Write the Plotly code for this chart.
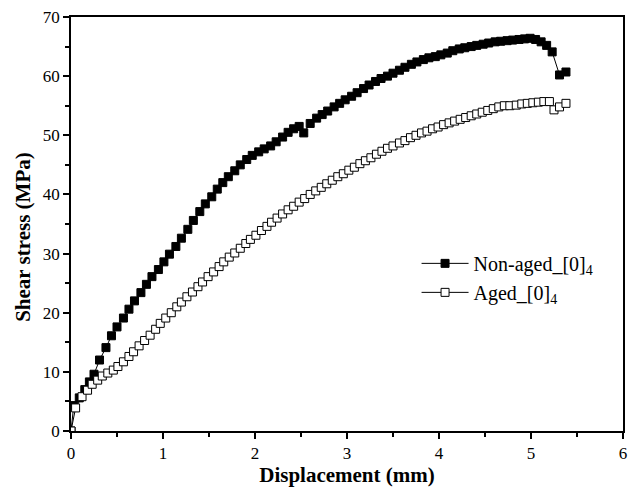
import plotly.graph_objects as go

# Lap-shear test curves: displacement (mm) vs shear stress (MPa)
nonaged_disp = [
    0.00, 0.03, 0.09, 0.15, 0.20, 0.25, 0.31, 0.38, 0.44, 0.50,
    0.57, 0.63, 0.69, 0.76, 0.82, 0.88, 0.95, 1.01, 1.07, 1.14,
    1.20, 1.27, 1.33, 1.40, 1.46, 1.53, 1.59, 1.65, 1.71, 1.78,
    1.84, 1.91, 1.97, 2.04, 2.10, 2.17, 2.23, 2.30, 2.36, 2.42,
    2.48, 2.53, 2.60, 2.67, 2.73, 2.79, 2.86, 2.92, 2.98, 3.05,
    3.11, 3.18, 3.24, 3.31, 3.37, 3.44, 3.50, 3.57, 3.63, 3.70,
    3.76, 3.83, 3.89, 3.96, 4.02, 4.09, 4.15, 4.22, 4.28, 4.35,
    4.41, 4.48, 4.54, 4.61, 4.67, 4.74, 4.80, 4.87, 4.93, 4.99,
    5.05, 5.11, 5.17, 5.23, 5.31, 5.38,
]
nonaged_stress = [
    0.0, 4.3, 5.6, 7.0, 8.3, 9.6, 12.0, 14.1, 16.1, 17.6,
    19.1, 20.6, 22.0, 23.4, 24.8, 26.1, 27.3, 28.6, 29.9, 31.2,
    32.6, 34.1, 35.6, 37.1, 38.4, 39.6, 40.9, 42.0, 43.0, 44.0,
    45.0, 45.9, 46.6, 47.2, 47.7, 48.2, 48.9, 49.7, 50.5, 51.1,
    51.5, 50.4, 52.0, 52.9, 53.5, 54.1, 54.8, 55.4, 56.0, 56.6,
    57.2, 57.9, 58.5, 59.1, 59.6, 60.0, 60.5, 61.0, 61.5, 62.0,
    62.4, 62.8, 63.1, 63.3, 63.6, 63.9, 64.3, 64.6, 64.8, 65.0,
    65.2, 65.4, 65.6, 65.8, 65.9, 66.0, 66.1, 66.2, 66.3, 66.4,
    66.2, 65.8, 65.2, 64.1, 60.2, 60.7,
]

aged_disp = [
    0.00, 0.05, 0.12, 0.18, 0.23, 0.29, 0.34, 0.40, 0.46, 0.51,
    0.57, 0.63, 0.68, 0.74, 0.80, 0.86, 0.92, 0.97, 1.03, 1.09,
    1.15, 1.20, 1.26, 1.32, 1.38, 1.43, 1.49, 1.55, 1.61, 1.66,
    1.72, 1.78, 1.84, 1.90, 1.95, 2.01, 2.07, 2.13, 2.18, 2.24,
    2.30, 2.36, 2.42, 2.48, 2.54, 2.60, 2.66, 2.72, 2.78, 2.84,
    2.90, 2.96, 3.02, 3.08, 3.14, 3.20, 3.26, 3.32, 3.38, 3.44,
    3.50, 3.57, 3.63, 3.69, 3.75, 3.81, 3.87, 3.93, 3.99, 4.05,
    4.11, 4.17, 4.23, 4.29, 4.35, 4.41, 4.47, 4.53, 4.59, 4.65,
    4.71, 4.77, 4.84, 4.90, 4.96, 5.02, 5.08, 5.14, 5.20, 5.25,
    5.31, 5.38,
]
aged_stress = [
    0.0, 3.9, 5.8, 6.9, 7.9, 8.6, 9.3, 9.8, 10.3, 10.9,
    11.7, 12.6, 13.4, 14.4, 15.3, 16.2, 17.2, 18.2, 19.1, 20.0,
    21.0, 21.8, 22.7, 23.5, 24.4, 25.2, 26.1, 26.9, 27.8, 28.6,
    29.4, 30.1, 30.9, 31.7, 32.4, 33.1, 33.9, 34.6, 35.3, 36.0,
    36.7, 37.4, 38.0, 38.7, 39.3, 40.0, 40.6, 41.2, 41.8, 42.4,
    43.0, 43.5, 44.1, 44.6, 45.2, 45.7, 46.2, 46.8, 47.3, 47.8,
    48.2, 48.7, 49.1, 49.6, 50.0, 50.4, 50.7, 51.1, 51.4, 51.8,
    52.1, 52.4, 52.7, 53.0, 53.3, 53.6, 53.9, 54.2, 54.5, 54.8,
    55.0, 55.0, 55.1, 55.3, 55.4, 55.5, 55.6, 55.7, 55.7, 54.3,
    54.8, 55.4,
]

FONT = "Liberation Serif, Times New Roman, serif"

fig = go.Figure()
fig.add_trace(go.Scatter(
    x=nonaged_disp, y=nonaged_stress, mode="lines+markers",
    name="Non-aged_[0]<sub>4</sub>",
    line=dict(color="black", width=1),
    marker=dict(symbol="square", size=8, color="black",
                line=dict(color="black", width=1)),
))
fig.add_trace(go.Scatter(
    x=aged_disp, y=aged_stress, mode="lines+markers",
    name="Aged_[0]<sub>4</sub>",
    line=dict(color="black", width=1),
    marker=dict(symbol="square", size=8, color="white",
                line=dict(color="black", width=1)),
))

axis_common = dict(
    showgrid=False, zeroline=False,
    showline=True, linecolor="black", linewidth=1.5, mirror=True,
    ticks="outside", ticklen=6, tickwidth=1.5, tickcolor="black",
    tickfont=dict(family=FONT, size=17, color="black"),
)

fig.update_xaxes(
    range=[0, 6], dtick=1, tick0=0,
    minor=dict(ticks="outside", dtick=0.5, ticklen=4, tickwidth=1.5, tickcolor="black"),
    title=dict(text="<b>Displacement (mm)</b>", font=dict(family=FONT, size=21, color="black"),
               standoff=5),
    **axis_common,
)
fig.update_yaxes(
    range=[0, 70], dtick=10, tick0=0,
    minor=dict(ticks="outside", dtick=5, ticklen=4, tickwidth=1.5, tickcolor="black"),
    **axis_common,
)

# y-axis title placed as a rotated annotation, slightly below the axis midpoint
fig.add_annotation(
    text="<b>Shear stress (MPa)</b>", textangle=-90,
    xref="paper", yref="paper", x=-0.087, y=0.469,
    xanchor="center", yanchor="middle", showarrow=False,
    font=dict(family=FONT, size=21, color="black"),
)

fig.update_layout(
    width=631, height=490,
    margin=dict(l=71, r=4, t=17, b=59),
    paper_bgcolor="white", plot_bgcolor="white",
    font=dict(family=FONT, color="black"),
    legend=dict(
        x=0.626, y=0.452, xanchor="left", yanchor="top",
        bgcolor="rgba(0,0,0,0)", borderwidth=0,
        font=dict(family=FONT, size=20, color="black"),
        tracegroupgap=0, itemwidth=47,
    ),
    showlegend=True,
)

fig.write_html("out.html")
